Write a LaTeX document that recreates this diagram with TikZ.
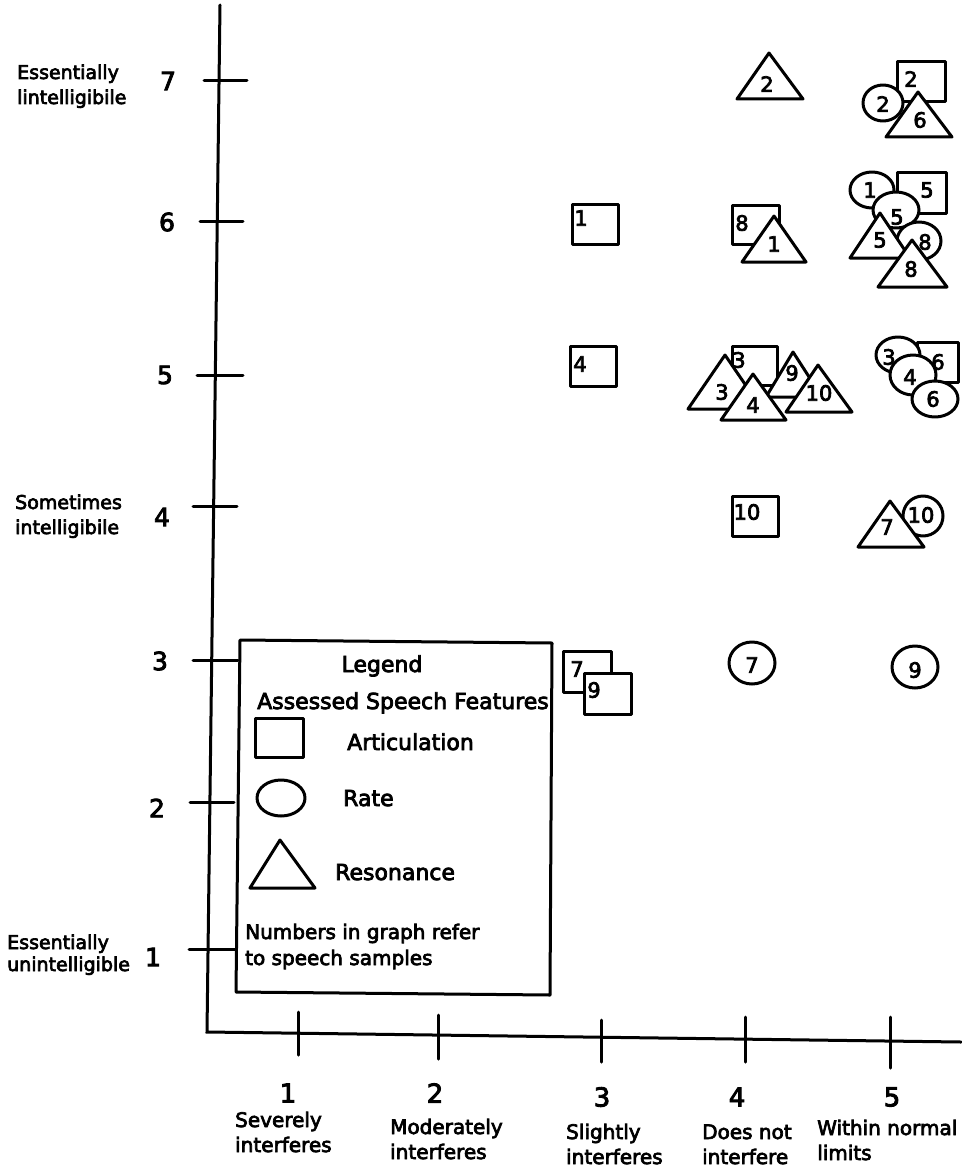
\documentclass[tikz,border=0pt]{standalone}
\usepackage{fontspec}
\setmainfont{DejaVu Sans}[FakeBold=3.5]
\begin{document}
\begin{tikzpicture}[x=1pt,y=-1pt,
  ax/.style={line width=3pt, line cap=round},
  mk/.style={line width=3pt, fill=white, line join=round},
  dig/.style={font=\fontsize{21}{24}\selectfont, inner sep=0pt},
  ynum/.style={font=\fontsize{25}{30}\selectfont, inner sep=0pt},
  xnum/.style={font=\fontsize{26}{30}\selectfont, inner sep=0pt},
  ylab/.style={font=\fontsize{19}{24}\selectfont, inner sep=0pt, anchor=base west},
  xlab/.style={font=\fontsize{20}{25}\selectfont, inner sep=0pt, anchor=base west},
  leg/.style={font=\fontsize{22}{26}\selectfont, inner sep=0pt, anchor=base west},
  legs/.style={font=\fontsize{20}{25}\selectfont, inner sep=0pt, anchor=base west}]
\useasboundingbox (0,0) rectangle (961,1169);

% axes
\coordinate (ytop) at (220,5);
\coordinate (orig) at (207,1032);
\coordinate (xend) at (961,1042);
\draw[ax] (ytop) -- (orig) -- (xend);

% y ticks
\draw[ax] (204,81) -- (247,81);
\draw[ax] (200,221) -- (243,221);
\draw[ax] (197,375) -- (243,375);
\draw[ax] (193,506) -- (237,506);
\draw[ax] (193,660) -- (238,660);
\draw[ax] (190,802) -- (234,802);
\draw[ax] (189,949) -- (235,949);

% x ticks
\draw[ax] (298,1012) -- (298,1055);
\draw[ax] (438,1015) -- (438,1059);
\draw[ax] (601,1020) -- (601,1062);
\draw[ax] (745,1017) -- (745,1062);
\draw[ax] (890,1017) -- (890,1068);

% y numbers
\node[ynum] (y7) at (168,81) {7};
\node[ynum] (y6) at (167,222) {6};
\node[ynum] (y5) at (165,375) {5};
\node[ynum] (y4) at (162,517) {4};
\node[ynum] (y3) at (160,661) {3};
\node[ynum] (y2) at (157,808) {2};
\node[ynum] (y1) at (153,957) {1};

% y descriptions
\node[ylab] (ya1) at (17,79) {Essentially};
\node[ylab] (ya2) at (17,104) {lintelligibile};
\node[ylab] (yb1) at (15,509) {Sometimes};
\node[ylab] (yb2) at (15,534) {intelligibile};
\node[ylab] (yc1) at (7,949) {Essentially};
\node[ylab] (yc2) at (7,971) {unintelligible};

% x numbers
\node[xnum] (x1) at (288,1093) {1};
\node[xnum] (x2) at (435,1093) {2};
\node[xnum] (x3) at (602,1097) {3};
\node[xnum] (x4) at (737,1097) {4};
\node[xnum] (x5) at (892,1097) {5};

% x descriptions
\node[xlab] (xa1) at (235,1127) {Severely};
\node[xlab] (xa2) at (235,1152) {interferes};
\node[xlab] (xb1) at (390,1134) {Moderately};
\node[xlab] (xb2) at (390,1159) {interferes};
\node[xlab] (xc1) at (566,1139) {Slightly};
\node[xlab] (xc2) at (566,1164) {interferes};
\node[xlab] (xd1) at (702,1139) {Does not};
\node[xlab] (xd2) at (702,1164) {interfere};
\node[xlab] (xe1) at (817,1135) {Within normal};
\node[xlab] (xe2) at (817,1160) {limits};

% ---------- column 3 ----------
\draw[mk] (572,204) rectangle (618,244); \node[dig] (c3s1) at (581,218) {1};
\draw[mk] (570,346) rectangle (616,386); \node[dig] (c3s4) at (580,364) {4};
\draw[mk] (563,651) rectangle (611,692); \node[dig] (c3s7) at (577,669) {7};
\draw[mk] (584,673) rectangle (631,714); \node[dig] (c3s9) at (594,690) {9};

% ---------- column 4 ----------
\draw[mk] (737,99) -- (803,99) -- (769,53) -- cycle; \node[dig] (c4t2) at (767,84) {2};
\draw[mk] (732,205) rectangle (779,244); \node[dig] (c4s8) at (742,223) {8};
\draw[mk] (742,262) -- (806,262) -- (774,216) -- cycle; \node[dig] (c4t1) at (774,244) {1};
\draw[mk] (732,346) rectangle (777,385); \node[dig] (c4s3) at (739,360) {3};
\draw[mk] (688,409) -- (762,409) -- (725,355) -- cycle; \node[dig] (c4t3) at (722,392) {3};
\draw[mk] (766,397) -- (822,397) -- (793,352) -- cycle; \node[dig] (c4t9) at (792,373) {9};
\draw[mk] (786,412) -- (852,412) -- (818,365) -- cycle; \node[dig] (c4t10) at (819,393) {10};
\draw[mk] (721,420) -- (786,420) -- (753,374) -- cycle; \node[dig] (c4t4) at (753,405) {4};
\draw[mk] (732,496) rectangle (778,536); \node[dig] (c4s10) at (747,512) {10};
\draw[mk] (752,663) ellipse [x radius=23pt, y radius=21pt]; \node[dig] (c4e7) at (752,665) {7};

% ---------- column 5 ----------
\draw[mk] (897,62) rectangle (945,102); \node[dig] (c5s2) at (911,79) {2};
\draw[mk] (883,103) ellipse [x radius=20pt, y radius=18pt]; \node[dig] (c5e2) at (883,104) {2};
\draw[mk] (886,137) -- (952,137) -- (918,92) -- cycle; \node[dig] (c5t6) at (920,120) {6};

\draw[mk] (897,173) rectangle (946,213); \node[dig] (c5s5) at (927,190) {5};
\draw[mk] (872,190) ellipse [x radius=22pt, y radius=18pt]; \node[dig] (c5e1) at (870,190) {1};
\draw[mk] (896,210) ellipse [x radius=23pt, y radius=18pt]; \node[dig] (c5e5) at (897,217) {5};
\draw[mk] (919,241) ellipse [x radius=22pt, y radius=19pt]; \node[dig] (c5e8) at (925,242) {8};
\draw[mk] (850,258) -- (910,258) -- (880,213) -- cycle; \node[dig] (c5t5) at (880,240) {5};
\draw[mk] (878,287) -- (947,287) -- (912,240) -- cycle; \node[dig] (c5t8) at (911,269) {8};

\draw[mk] (917,342) rectangle (958,382); \node[dig] (c5s6) at (938,362) {6};
\draw[mk] (898,355) ellipse [x radius=22pt, y radius=18pt]; \node[dig] (c5e3) at (889,357) {3};
\draw[mk] (913,375) ellipse [x radius=23pt, y radius=20pt]; \node[dig] (c5e4) at (910,377) {4};
\draw[mk] (935,399) ellipse [x radius=23pt, y radius=18pt]; \node[dig] (c5e6) at (933,399) {6};

\draw[mk] (923,516) ellipse [x radius=20pt, y radius=20pt]; \node[dig] (c5e10) at (921,515) {10};
\draw[mk] (858,547) -- (924,547) -- (890,501) -- cycle; \node[dig] (c5t7) at (887,527) {7};

\draw[mk] (915,667) ellipse [x radius=23pt, y radius=21pt]; \node[dig] (c5e9) at (915,670) {9};

% ---------- legend ----------
\draw[mk] (240,640) -- (552,643) -- (550,995) -- (236,992) -- cycle;
\node[leg, anchor=base] (legT) at (382,672) {Legend};
\node[leg] (legH) at (257,709) {Assessed Speech Features};
\draw[mk] (255,718) rectangle (303,757);
\node[leg] (legA) at (347,750) {Articulation};
\draw[mk] (281,798) ellipse [x radius=24pt, y radius=18pt];
\node[leg] (legR) at (343,806) {Rate};
\draw[mk] (250,888) -- (315,888) -- (280,840) -- cycle;
\node[leg] (legS) at (335,880) {Resonance};
\node[legs] (legN1) at (245,939) {Numbers in graph refer};
\node[legs] (legN2) at (245,965) {to speech samples};
\end{tikzpicture}
\end{document}
